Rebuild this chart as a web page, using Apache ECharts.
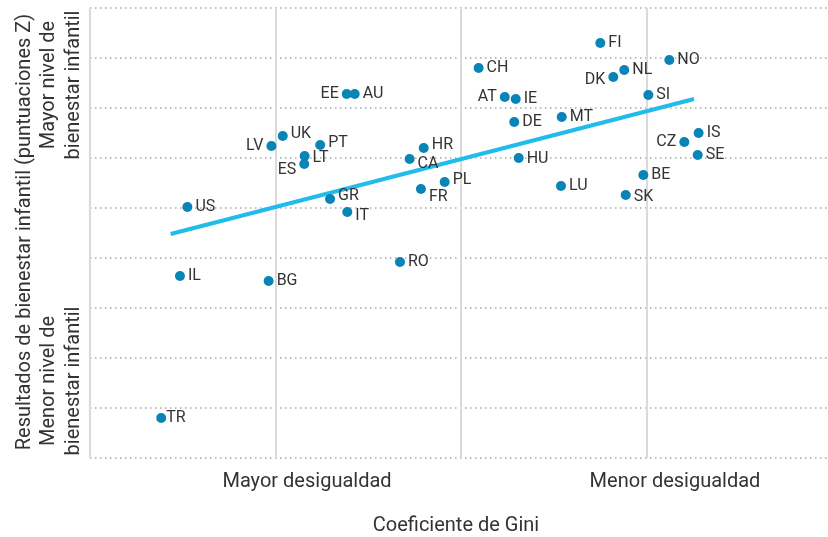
<!DOCTYPE html>
<html>
<head>
<meta charset="utf-8">
<script src="https://cdn.jsdelivr.net/npm/echarts@6/dist/echarts.min.js"></script>
<style>
html,body{margin:0;padding:0;background:#fff;}
#chart{width:828px;height:537px;}
</style>
</head>
<body>
<div id="chart"></div>
<script>
// Countries, position along the (inverted) Gini axis, child well-being z-score
const countries = ['US','LV','IL','BG','TR','UK','PT','LT','ES','EE','AU','GR','IT','HR','CA','FR','PL','RO','CH','AT','IE','DE','HU','FI','NO','NL','DK','SI','MT','IS','CZ','SE','BE','LU','SK'];
const giniPos   = [0.525,0.978,0.485,0.963,0.384,1.039,1.241,1.157,1.155,1.384,1.427,1.294,1.387,1.799,1.723,1.784,1.912,1.671,2.095,2.236,2.295,2.287,2.311,2.751,3.123,2.880,2.821,3.010,2.543,3.281,3.204,3.276,2.983,2.539,2.888];
const wellbeing = [0.01,0.62,-0.68,-0.73,-2.10,0.72,0.63,0.52,0.44,1.14,1.14,0.09,-0.04,0.60,0.49,0.19,0.26,-0.54,1.40,1.11,1.09,0.86,0.50,1.65,1.48,1.38,1.31,1.13,0.91,0.75,0.66,0.53,0.33,0.22,0.13];
// Trend line endpoints
const trendX = [0.435, 3.256];
const trendY = [-0.26, 1.09];
// Axis text
const xLabelLeft = 'Mayor desigualdad';
const xLabelRight = 'Menor desigualdad';
const xTitle = 'Coeficiente de Gini';
const yTitle = 'Resultados de bienestar infantil (puntuaciones Z)';
const yTop = 'Mayor nivel de\nbienestar infantil';
const yBottom = 'Menor nivel de\nbienestar infantil';

// label styling
const leftLabels = ['LV','EE','ES','AT','DK','CZ'];
const labelDy = {ES:6, LT:2, CA:5, FR:8, IT:4, GR:-3, HR:-3, PT:-2, UK:-2, PL:-2, DK:3, SK:2, HU:1};
const labelDx = {TR:-3};

const FONT = 'Roboto, "Liberation Sans", sans-serif';
const TXT = '#333333';

const pts = countries.map((c, i) => {
  const left = leftLabels.includes(c);
  return {
    name: c,
    value: [giniPos[i], wellbeing[i]],
    label: {
      position: left ? 'left' : 'right',
      offset: [labelDx[c] || 0, labelDy[c] || 0]
    }
  };
});

const chart = echarts.init(document.getElementById('chart'), null, {renderer: 'canvas'});
chart.setOption({
  animation: false,
  backgroundColor: '#fff',
  grid: {left: 90, top: 8, width: 742, height: 450, containLabel: false, outerBoundsMode: 'none'},
  xAxis: {
    type: 'value', min: 0, max: 4, interval: 1,
    axisLine: {show: false}, axisTick: {show: false}, axisLabel: {show: false},
    splitLine: {show: true, lineStyle: {color: '#dadada', width: 2, type: 'solid'}}
  },
  yAxis: {
    type: 'value', min: -2.5, max: 2, interval: 0.5,
    axisLine: {show: false}, axisTick: {show: false}, axisLabel: {show: false},
    splitLine: {show: true, lineStyle: {color: '#a8a8a8', width: 1.5, type: [1.5, 3.5]}}
  },
  series: [
    {
      type: 'line',
      data: trendX.map((x, i) => [x, trendY[i]]),
      showSymbol: false,
      symbol: 'none',
      lineStyle: {color: '#1fbcec', width: 4},
      z: 2,
      silent: true
    },
    {
      type: 'scatter',
      data: pts,
      symbolSize: 10,
      itemStyle: {color: '#0884b6', opacity: 1},
      z: 3,
      label: {
        show: true,
        formatter: '{b}',
        distance: 3,
        fontFamily: FONT,
        fontSize: 16,
        color: TXT
      }
    }
  ],
  graphic: [
    {type: 'text', x: 307, y: 482, style: {text: xLabelLeft, font: '20px ' + FONT, fill: TXT, textAlign: 'center', textVerticalAlign: 'middle'}},
    {type: 'text', x: 675, y: 482, style: {text: xLabelRight, font: '20px ' + FONT, fill: TXT, textAlign: 'center', textVerticalAlign: 'middle'}},
    {type: 'text', x: 456, y: 526, style: {text: xTitle, font: '20px ' + FONT, fill: TXT, textAlign: 'center', textVerticalAlign: 'middle'}},
    {type: 'text', x: 25, y: 232, rotation: Math.PI / 2, style: {text: yTitle, font: '20px ' + FONT, fill: TXT, textAlign: 'center', textVerticalAlign: 'middle'}},
    {type: 'text', x: 61, y: 85, rotation: Math.PI / 2, style: {text: yTop, font: '20px ' + FONT, lineHeight: 25, fill: TXT, textAlign: 'center', textVerticalAlign: 'middle'}},
    {type: 'text', x: 61, y: 381, rotation: Math.PI / 2, style: {text: yBottom, font: '20px ' + FONT, lineHeight: 25, fill: TXT, textAlign: 'center', textVerticalAlign: 'middle'}}
  ]
});
</script>
</body>
</html>
